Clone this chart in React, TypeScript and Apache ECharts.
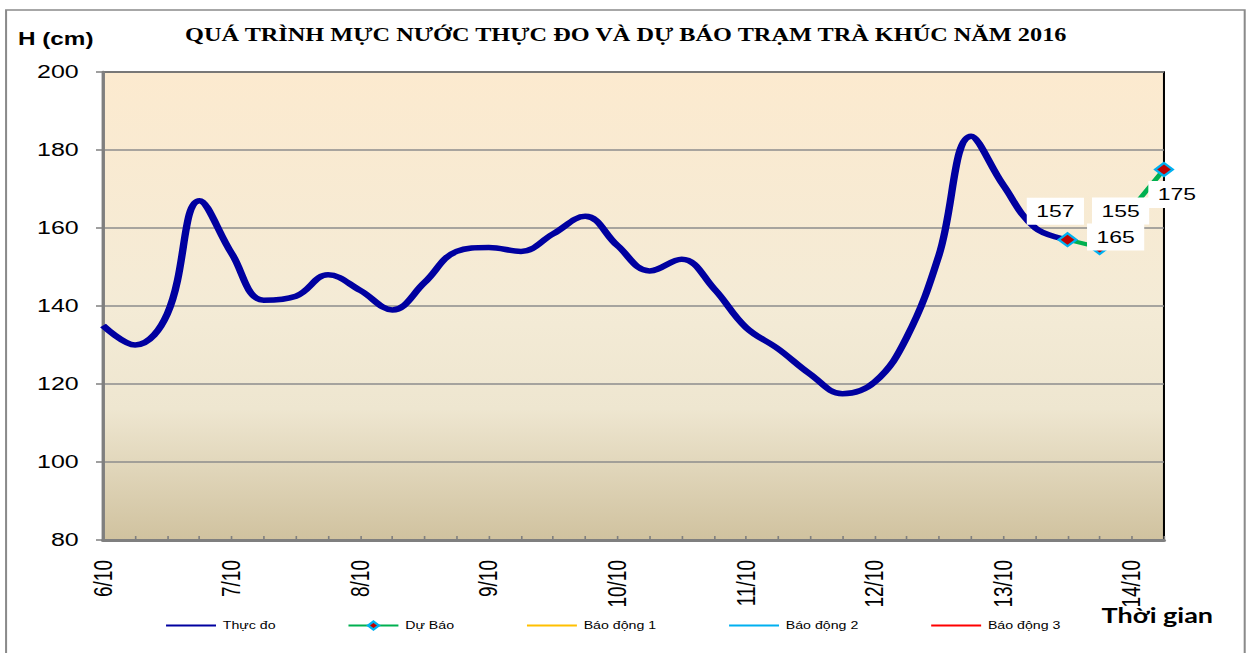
import React, { useEffect, useRef } from "react";
import * as echarts from "echarts";

const days = ["6/10", "7/10", "8/10", "9/10", "10/10", "11/10", "12/10", "13/10", "14/10"];
const hours = ["00h", "06h", "12h", "18h"];
const categories = days.flatMap((d) => hours.map((h) => `${d} ${h}`)).slice(0, 34);

const observed = [
  135, 130, 138, 167, 153.5, 141.5, 142.5, 148, 144, 139, 146, 154, 155, 154, 158.5, 163,
  155.5, 149, 152, 144.5, 134.5, 129, 122.5, 117.5, 120.5, 132, 153, 183.5, 171, 160, 157,
];

const forecastStart = 30;
const forecast = [157, 155, 165, 175];
const forecastLabelOffsets = [
  [-9, -28.5],
  [15.5, -36.5],
  [-12, 28.5],
  [9.6, 25],
];

const alarm1: number[] = [];
const alarm2: number[] = [];
const alarm3: number[] = [];

const yTicks = { min: 80, max: 200, interval: 20 };

const SX = 1.35;
const W = 927;
const H = 653;

export default function App() {
  const ref = useRef<HTMLDivElement>(null);
  useEffect(() => {
    const chart = echarts.init(ref.current!, null, { renderer: "svg" });
    const hideSym = { opacity: 0 };
    const option: any = {
      animation: false,
      backgroundColor: "#fff",
      title: {
        text: "QUÁ TRÌNH MỰC NƯỚC THỰC ĐO VÀ DỰ BÁO TRẠM TRÀ KHÚC NĂM 2016",
        left: "center",
        top: 21,
        textStyle: {
          fontFamily: "Liberation Serif",
          fontWeight: "bold",
          fontSize: 18,
          color: "#000",
        },
      },
      graphic: [
        {
          type: "rect",
          shape: { x: 4.5, y: 10, width: 917.5, height: 700 },
          style: { fill: "none", stroke: "#8a8a8a", lineWidth: 1.5 },
          z: -10,
        },
        {
          type: "text",
          x: 13.3,
          y: 39,
          style: {
            text: "H (cm)",
            font: "bold 18px 'Liberation Sans', Arial, sans-serif",
            fill: "#000",
            textAlign: "left",
            textVerticalAlign: "middle",
          },
        },
        {
          type: "text",
          x: 816,
          y: 615,
          style: {
            text: "Thời gian",
            font: "bold 20px Lato, sans-serif",
            fill: "#000",
            textAlign: "left",
            textVerticalAlign: "middle",
          },
        },
      ],
      legend: {
        left: 117,
        top: 615,
        itemWidth: 37,
        itemHeight: 10,
        itemGap: 53,
        textStyle: { fontFamily: "Liberation Sans", fontSize: 10.5, color: "#000" },
        data: [
          { name: "Thực đo", itemStyle: hideSym },
          { name: "Dự Báo" },
          { name: "Báo động 1", itemStyle: hideSym },
          { name: "Báo động 2", itemStyle: hideSym },
          { name: "Báo động 3", itemStyle: hideSym },
        ],
      },
      grid: {
        left: 76.3,
        right: 64.8,
        top: 72,
        bottom: 113,
        show: true,
        borderColor: "#000",
        borderWidth: 1.5,
        backgroundColor: new echarts.graphic.LinearGradient(0, 0, 0, 1, [
          { offset: 0, color: "#FCEACF" },
          { offset: 0.5, color: "#F4EBD6" },
          { offset: 0.72, color: "#EEE6D0" },
          { offset: 1, color: "#D0C29F" },
        ]),
      },
      xAxis: {
        type: "category",
        data: categories,
        boundaryGap: false,
        axisLine: { onZero: false, lineStyle: { color: "#7f7f7f", width: 3 } },
        axisTick: {
          inside: true,
          length: 4,
          interval: 0,
          lineStyle: { color: "#7f7f7f", width: 1.2 },
        },
        axisLabel: {
          interval: 3,
          rotate: 90,
          margin: 20,
          fontFamily: "Liberation Sans",
          fontSize: 19,
          color: "#000",
          formatter: (v: string) => v.split(" ")[0],
        },
        splitLine: { show: false },
      },
      yAxis: {
        type: "value",
        min: yTicks.min,
        max: yTicks.max,
        interval: yTicks.interval,
        axisLine: { show: true, lineStyle: { color: "#7f7f7f", width: 2.5 } },
        axisTick: { show: true, inside: false, length: 5.2, lineStyle: { color: "#7f7f7f", width: 1.5 } },
        axisLabel: {
          margin: 18,
          fontFamily: "Liberation Sans",
          fontSize: 18.5,
          color: "#000",
        },
        splitLine: { show: true, lineStyle: { color: "#8c8c8c", width: 1.5 } },
      },
      series: [
        {
          name: "Thực đo",
          type: "line",
          data: observed,
          smooth: 0.4,
          symbol: "none",
          lineStyle: { color: "#0000A0", width: 5.5 },
          itemStyle: { color: "#0000A0" },
          z: 3,
        },
        {
          name: "Dự Báo",
          type: "line",
          data: forecast.map((v, i) => ({
            value: [forecastStart + i, v],
            label: { offset: forecastLabelOffsets[i] },
          })),
          symbol: "diamond",
          symbolSize: 13,
          showAllSymbol: true,
          lineStyle: { color: "#00B050", width: 4 },
          itemStyle: { color: "#C00000", borderColor: "#00B0F0", borderWidth: 2 },
          label: {
            show: true,
            position: "inside",
            fontFamily: "Liberation Sans",
            fontSize: 17,
            color: "#000",
            backgroundColor: "#fff",
            padding: [5, 7],
            formatter: (p: any) => String(p.value[1]),
          },
          z: 4,
        },
        {
          name: "Báo động 1",
          type: "line",
          data: alarm1,
          symbol: "none",
          lineStyle: { color: "#FFC000", width: 2 },
          itemStyle: { color: "#FFC000" },
        },
        {
          name: "Báo động 2",
          type: "line",
          data: alarm2,
          symbol: "none",
          lineStyle: { color: "#00B0F0", width: 2 },
          itemStyle: { color: "#00B0F0" },
        },
        {
          name: "Báo động 3",
          type: "line",
          data: alarm3,
          symbol: "none",
          lineStyle: { color: "#FF0000", width: 2 },
          itemStyle: { color: "#FF0000" },
        },
      ],
    };
    chart.setOption(option);
    return () => chart.dispose();
  }, []);

  return (
    <div
      style={{
        position: "fixed",
        left: 0,
        top: 0,
        width: 1251,
        height: 653,
        overflow: "hidden",
        background: "#fff",
      }}
    >
      <div
        ref={ref}
        style={{
          width: W,
          height: H,
          transform: `scaleX(${SX})`,
          transformOrigin: "0 0",
        }}
      />
    </div>
  );
}
